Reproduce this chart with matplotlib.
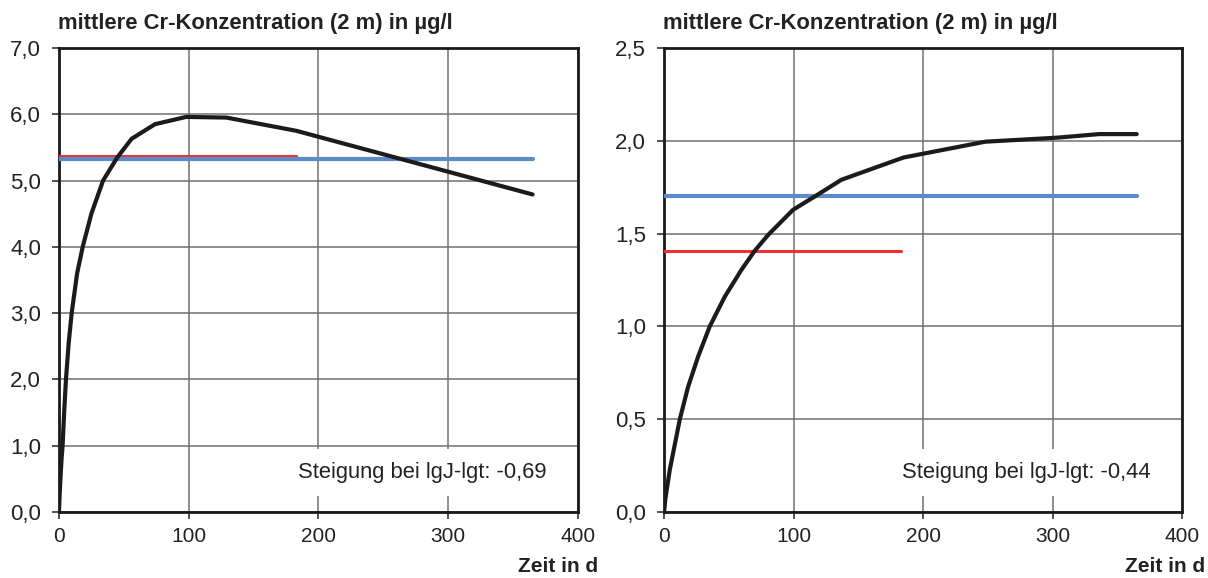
import matplotlib
matplotlib.use("Agg")
import matplotlib.pyplot as plt
from matplotlib.ticker import FuncFormatter, MultipleLocator

plt.rcParams['font.family'] = ['Liberation Sans', 'DejaVu Sans']

# left panel
days_l = [0, 0.5, 1, 2, 2.8, 4, 5.4, 7.5, 9.8, 14, 18.3, 25, 34, 45, 56, 74, 98, 129, 183, 365]
conc_l = [0, 0.25, 0.45, 0.8, 1.0, 1.5, 2.0, 2.55, 3.0, 3.6, 4.0, 4.5, 5.0, 5.35, 5.63, 5.85, 5.96, 5.95, 5.75, 4.79]
red_l = 5.37
blue_l = 5.32
slope_l = "-0,69"

# right panel
days_r = [0, 1, 4.4, 12.2, 18.6, 26.3, 35.3, 46.9, 59.8, 70, 80.4, 99.6, 116.4, 137, 185, 248, 304, 336, 365]
conc_r = [0, 0.07, 0.226, 0.50, 0.675, 0.837, 1.0, 1.16, 1.305, 1.407, 1.493, 1.628, 1.70, 1.79, 1.91, 1.995, 2.017, 2.036, 2.036]
red_r = 1.405
blue_r = 1.70
slope_r = "-0,44"

red_end = 183
blue_end = 365

title = "mittlere Cr-Konzentration (2 m) in µg/l"
xlab = "Zeit in d"

fig = plt.figure(figsize=(12.08, 5.78), dpi=100)
ax1 = fig.add_axes([0.0488, 0.1142, 0.4297, 0.8028])
ax2 = fig.add_axes([0.5497, 0.1142, 0.4288, 0.8028])

comma = FuncFormatter(lambda v, p: f"{v:.1f}".replace(".", ","))

panels = [
    (ax1, days_l, conc_l, red_l, blue_l, slope_l, 7.0, 1.0),
    (ax2, days_r, conc_r, red_r, blue_r, slope_r, 2.5, 0.5),
]
for ax, d, c, r, b, s, ymax, step in panels:
    ax.set_xlim(0, 400)
    ax.set_ylim(0, ymax)
    ax.xaxis.set_major_locator(MultipleLocator(100))
    ax.yaxis.set_major_locator(MultipleLocator(step))
    ax.yaxis.set_major_formatter(comma)
    ax.grid(True, color='#707070', lw=1.1)
    ax.set_axisbelow(True)
    ax.tick_params(direction='out', length=5, width=1.2, color='#333333',
                   labelcolor='#222222')
    ax.tick_params(axis='x', labelsize=15, pad=6)
    ax.tick_params(axis='y', labelsize=16, pad=8)
    for sp in ax.spines.values():
        sp.set_linewidth(2.0)
        sp.set_color('#1a1a1a')
    ax.plot(d, c, color='#1c1a1a', lw=3, solid_capstyle='round',
            solid_joinstyle='round', zorder=4)
    ax.plot([0, red_end], [r, r], color='#ef3030', lw=2.2, solid_capstyle='round', zorder=3)
    ax.plot([0, blue_end], [b, b], color='#5b8bc9', lw=3, solid_capstyle='round', zorder=3)
    ax.text(0.94, 0.085, "Steigung bei lgJ-lgt: " + s, transform=ax.transAxes,
            ha='right', va='center', fontsize=15.8, color='#222222', zorder=2,
            bbox=dict(boxstyle='square,pad=0.6', fc='white', ec='none'))

fig.text(0.048, 0.960, title, fontsize=15.8, fontweight='bold', color='#222222', va='center')
fig.text(0.549, 0.960, title, fontsize=15.8, fontweight='bold', color='#222222', va='center')
fig.text(0.495, 0.02, xlab, fontsize=15, fontweight='bold', color='#222222', ha='right', va='center')
fig.text(0.998, 0.02, xlab, fontsize=15, fontweight='bold', color='#222222', ha='right', va='center')

fig.savefig("out.png", dpi=100)
